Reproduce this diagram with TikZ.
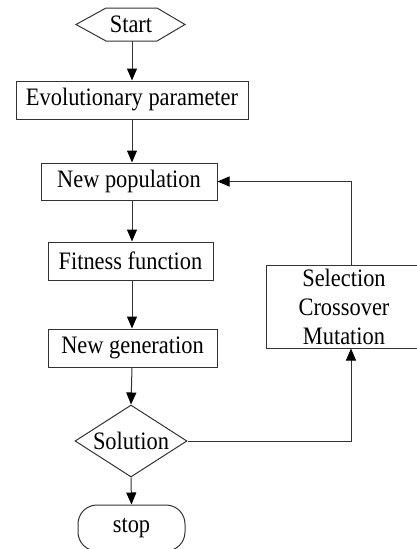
\documentclass[tikz,border=0pt]{standalone}
\usepackage{fontspec}
\setmainfont{Liberation Serif}
\usepackage{graphicx}
\usetikzlibrary{arrows.meta,shapes.geometric}
\newcommand\vs[1]{\scalebox{1}[1.12]{#1}}
\begin{document}
\begin{tikzpicture}[x=1pt,y=-1pt,
  line/.style={draw=black!80,line width=1pt},
  arr/.style={line,-{Triangle[length=12pt,width=10pt,fill=black,color=black]}},
  boxnode/.style={line,rectangle,inner sep=0pt,font=\fontsize{22.4}{29}\selectfont},
  txt/.style={inner sep=0pt,font=\fontsize{22.4}{29}\selectfont}]
\useasboundingbox (0,0) rectangle (417,549);
\coordinate (spine) at (132,0);
\coordinate (loopx) at (351,0);
% start hexagon
\node[txt,minimum width=109pt,minimum height=33pt] (start) at (131,24.5) {\vs{Start}};
\draw[line] (76,24.5) -- (106,8) -- (157,8) -- (185,24.5) -- (157,41) -- (106,41) -- cycle;
\node[boxnode,minimum width=232pt,minimum height=38pt] (evo) at (132,100) {\vs{Evolutionary parameter}};
\node[boxnode,minimum width=176pt,minimum height=37pt] (newpop) at (129,181.5) {\vs{New population}};
\node[boxnode,minimum width=165pt,minimum height=38pt] (fit) at (130.5,261) {\vs{Fitness function}};
\node[boxnode,minimum width=169pt,minimum height=38pt] (gen) at (132.5,348) {\vs{New generation}};
\node[boxnode,diamond,minimum width=112pt,minimum height=72pt,aspect=1.55] (sol) at (131,441) {\vs{Solution}};
\node[boxnode,rounded corners=19pt,minimum width=107pt,minimum height=46pt] (stop) at (131.5,528) {\vs{stop}};
\node[boxnode,minimum width=156pt,minimum height=83pt,align=center] (sel) at (344,306.5)
  {\vs{Selection}\\\vs{Crossover}\\\vs{Mutation}};
% connectors
\draw[arr] (start.south -| spine) -- (evo.north -| spine);
\draw[arr] (evo.south -| spine) -- (newpop.north -| spine);
\draw[arr] (newpop.south -| spine) -- (fit.north -| spine);
\draw[arr] (fit.south -| spine) -- (gen.north -| spine);
\draw[arr] (gen.south -| spine) -- (sol.north);
\draw[arr] (sol.south) -- (stop.north);
\draw[arr] (sol.east) -| (loopx |- sel.south);
\draw[arr] (loopx |- sel.north) |- (newpop.east);
\end{tikzpicture}
\end{document}
